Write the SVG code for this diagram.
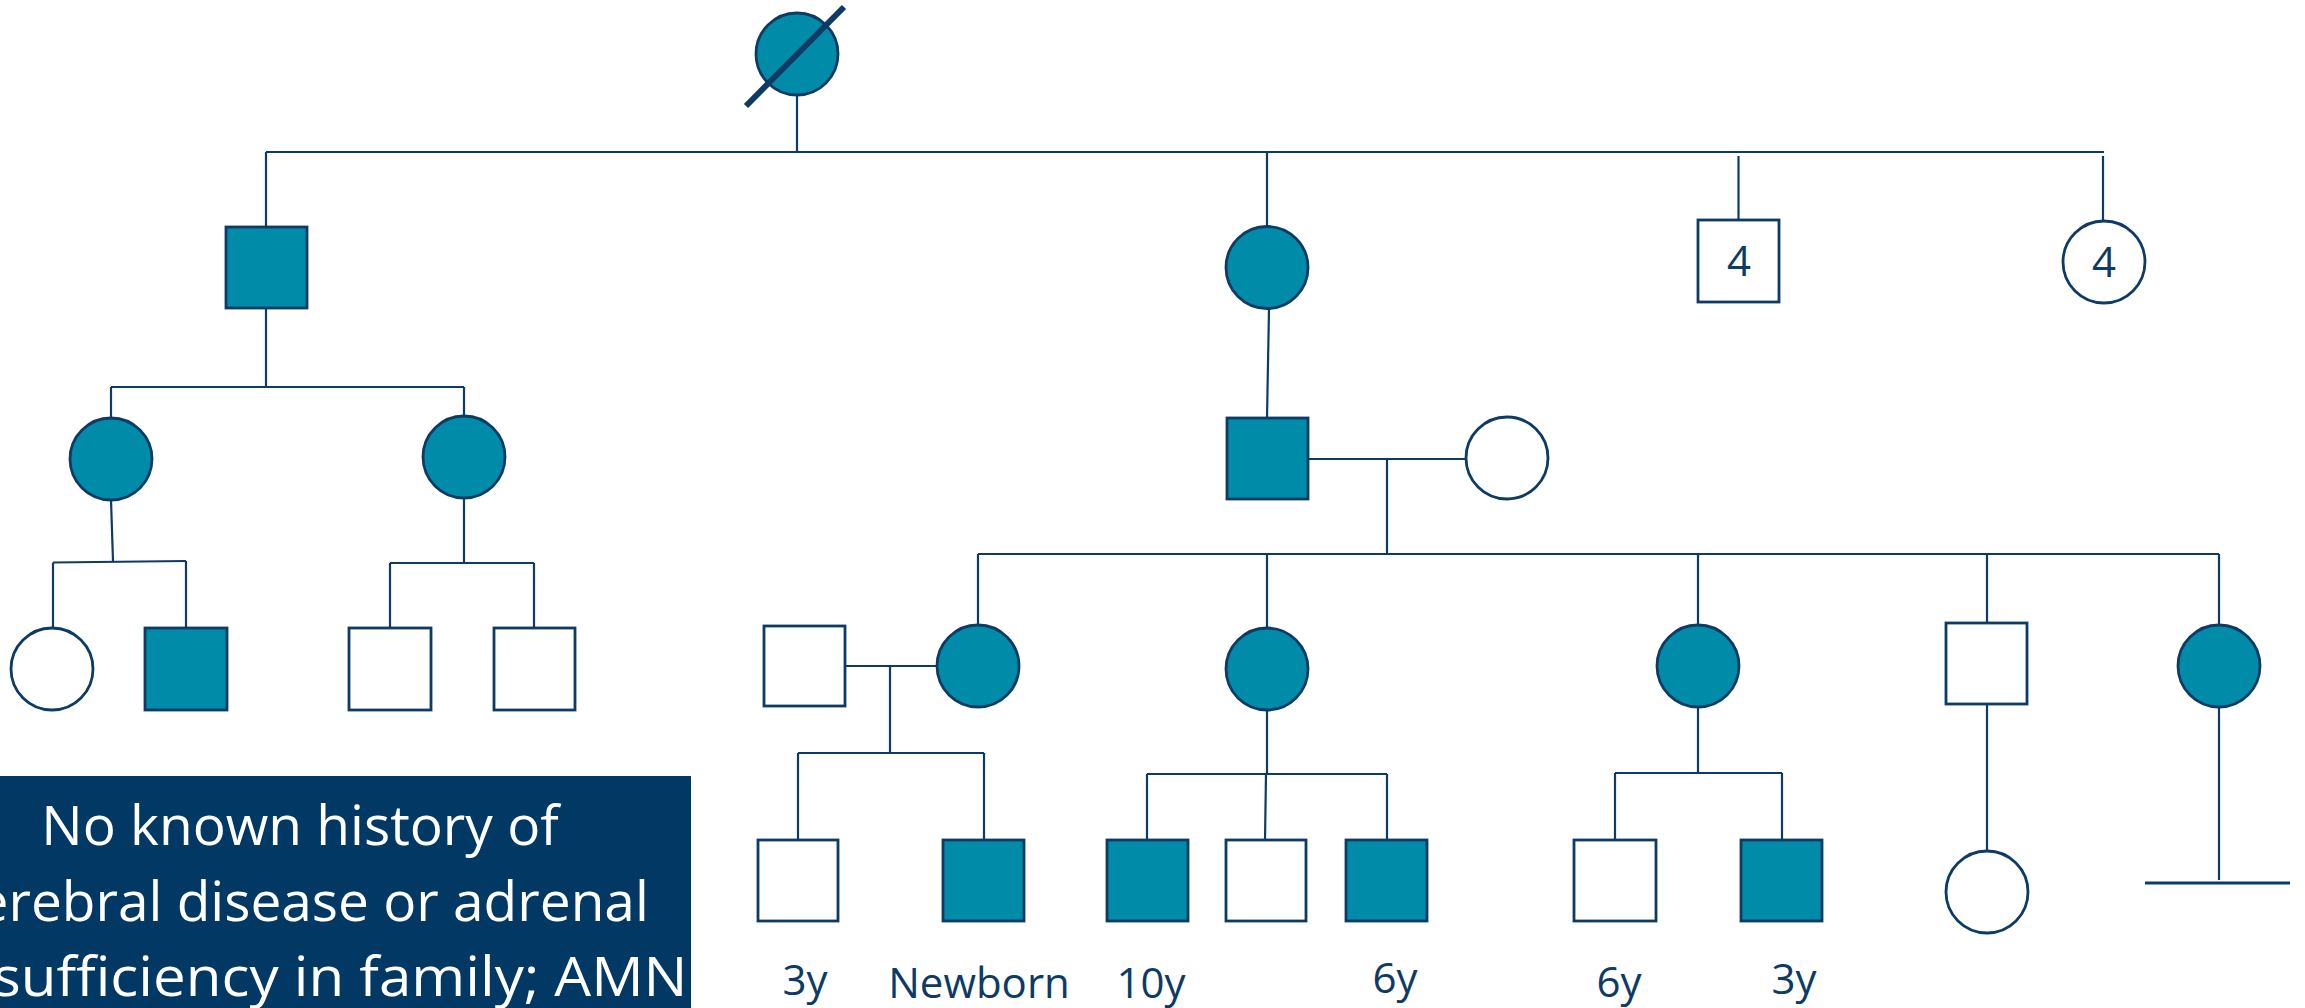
<svg xmlns="http://www.w3.org/2000/svg" width="2305" height="1008" viewBox="0 0 2305 1008">
<style>
.ln{stroke:#0D3B66;stroke-width:2.2;fill:none}
.aff{fill:#008CA8;stroke:#0D3B66;stroke-width:2.8}
.un{fill:#FFFFFF;stroke:#0D3B66;stroke-width:2.8}
.lbl{font-family:"Open Sans","Liberation Sans",sans-serif;font-size:42px;fill:#0D3B66;text-anchor:middle}
.note{font-family:"Open Sans","Liberation Sans",sans-serif;font-size:55px;fill:#FFFFFF;text-anchor:middle}
</style>
<rect width="2305" height="1008" fill="#FFFFFF"/>
<g id="connectors">
<line class="ln" x1="797" y1="95" x2="797" y2="152"/>
<line class="ln" x1="266" y1="152" x2="2104" y2="152"/>
<line class="ln" x1="266" y1="152" x2="266" y2="227"/>
<line class="ln" x1="1267" y1="152" x2="1267" y2="227"/>
<line class="ln" x1="1738.5" y1="156" x2="1738.5" y2="220"/>
<line class="ln" x1="2103" y1="156" x2="2103" y2="221"/>
<line class="ln" x1="266" y1="308" x2="266" y2="387"/>
<line class="ln" x1="111" y1="387" x2="464" y2="387"/>
<line class="ln" x1="111" y1="387" x2="111" y2="418"/>
<line class="ln" x1="464" y1="387" x2="464" y2="416"/>
<line class="ln" x1="111" y1="500" x2="113" y2="561"/>
<line class="ln" x1="53" y1="562.5" x2="186" y2="561"/>
<line class="ln" x1="53" y1="562.5" x2="53" y2="628"/>
<line class="ln" x1="186" y1="561" x2="186" y2="628"/>
<line class="ln" x1="464" y1="498" x2="464" y2="563"/>
<line class="ln" x1="390" y1="563" x2="534" y2="563"/>
<line class="ln" x1="390" y1="563" x2="390" y2="628"/>
<line class="ln" x1="534" y1="563" x2="534" y2="628"/>
<line class="ln" x1="1269" y1="309" x2="1267" y2="418"/>
<line class="ln" x1="1308" y1="459" x2="1466" y2="459"/>
<line class="ln" x1="1387" y1="459" x2="1387" y2="554"/>
<line class="ln" x1="978" y1="554" x2="2219" y2="554"/>
<line class="ln" x1="978" y1="554" x2="978" y2="625"/>
<line class="ln" x1="1267" y1="554" x2="1267" y2="628"/>
<line class="ln" x1="1698" y1="554" x2="1698" y2="626"/>
<line class="ln" x1="1987" y1="554" x2="1987" y2="623"/>
<line class="ln" x1="2219" y1="554" x2="2219" y2="626"/>
<line class="ln" x1="845" y1="666" x2="937" y2="666"/>
<line class="ln" x1="890" y1="666" x2="890" y2="753"/>
<line class="ln" x1="798" y1="753" x2="984" y2="753"/>
<line class="ln" x1="798" y1="753" x2="798" y2="840"/>
<line class="ln" x1="984" y1="753" x2="984" y2="840"/>
<line class="ln" x1="1267" y1="710" x2="1267" y2="774"/>
<line class="ln" x1="1147" y1="774" x2="1387" y2="774"/>
<line class="ln" x1="1147" y1="774" x2="1147" y2="840"/>
<line class="ln" x1="1266" y1="774" x2="1265" y2="840"/>
<line class="ln" x1="1387" y1="774" x2="1387" y2="840"/>
<line class="ln" x1="1698" y1="707" x2="1698" y2="773"/>
<line class="ln" x1="1615" y1="773" x2="1782" y2="773"/>
<line class="ln" x1="1615" y1="773" x2="1615" y2="840"/>
<line class="ln" x1="1782" y1="773" x2="1782" y2="840"/>
<line class="ln" x1="1987" y1="704" x2="1987" y2="852"/>
<line class="ln" x1="2219" y1="707" x2="2219" y2="880"/>
<line class="ln" x1="2145" y1="883" x2="2290" y2="883" style="stroke-width:3"/>
</g>
<g id="I-1"><circle class="aff" cx="797" cy="54" r="41"/><line x1="746" y1="106" x2="844" y2="7" stroke="#0D3B66" stroke-width="6"/></g>
<g id="II-1"><rect class="aff" x="226" y="227" width="81" height="81"/></g>
<g id="II-2"><circle class="aff" cx="1267" cy="267.5" r="41"/></g>
<g id="II-3"><rect class="un" x="1698" y="220" width="81" height="82"/><text class="lbl" x="1739" y="276">4</text></g>
<g id="II-4"><circle class="un" cx="2104" cy="262" r="41"/><text class="lbl" x="2104" y="277">4</text></g>
<g id="III-1"><circle class="aff" cx="111" cy="459" r="41"/></g>
<g id="III-2"><circle class="aff" cx="464" cy="457" r="41"/></g>
<g id="III-3"><rect class="aff" x="1227" y="418" width="81" height="81"/></g>
<g id="III-4"><circle class="un" cx="1507" cy="458" r="41"/></g>
<g id="IV-1"><circle class="un" cx="52" cy="669" r="41"/></g>
<g id="IV-2"><rect class="aff" x="145" y="628" width="82" height="82"/></g>
<g id="IV-3"><rect class="un" x="349" y="628" width="82" height="82"/></g>
<g id="IV-4"><rect class="un" x="494" y="628" width="81" height="82"/></g>
<g id="IV-5"><rect class="un" x="764" y="626" width="81" height="80"/></g>
<g id="IV-6"><circle class="aff" cx="978" cy="666" r="41"/></g>
<g id="IV-7"><circle class="aff" cx="1267" cy="669" r="41"/></g>
<g id="IV-8"><circle class="aff" cx="1698" cy="666" r="41"/></g>
<g id="IV-9"><rect class="un" x="1946" y="623" width="81" height="81"/></g>
<g id="IV-10"><circle class="aff" cx="2219" cy="666" r="41"/></g>
<g id="V-1"><rect class="un" x="758" y="840" width="80" height="81"/><text class="lbl" x="805" y="995">3y</text></g>
<g id="V-2"><rect class="aff" x="943" y="840" width="81" height="81"/><text class="lbl" x="979" y="998">Newborn</text></g>
<g id="V-3"><rect class="aff" x="1107" y="840" width="81" height="81"/><text class="lbl" x="1151" y="998">10y</text></g>
<g id="V-4"><rect class="un" x="1226" y="840" width="80" height="81"/></g>
<g id="V-5"><rect class="aff" x="1346" y="840" width="81" height="81"/><text class="lbl" x="1395" y="993">6y</text></g>
<g id="V-6"><rect class="un" x="1574" y="840" width="82" height="81"/><text class="lbl" x="1619" y="997">6y</text></g>
<g id="V-7"><rect class="aff" x="1741" y="840" width="81" height="81"/><text class="lbl" x="1794" y="994">3y</text></g>
<g id="V-8"><circle class="un" cx="1987" cy="892" r="41"/></g>
<g id="note">
<rect x="-20" y="776" width="711" height="250" fill="#023864"/>
<text class="note" x="300" y="845">No known history of</text>
<text class="note" x="300" y="921">cerebral disease or adrenal</text>
<text class="note" x="315" y="996" textLength="745" lengthAdjust="spacingAndGlyphs">insufficiency in family; AMN</text>
</g>
</svg>
